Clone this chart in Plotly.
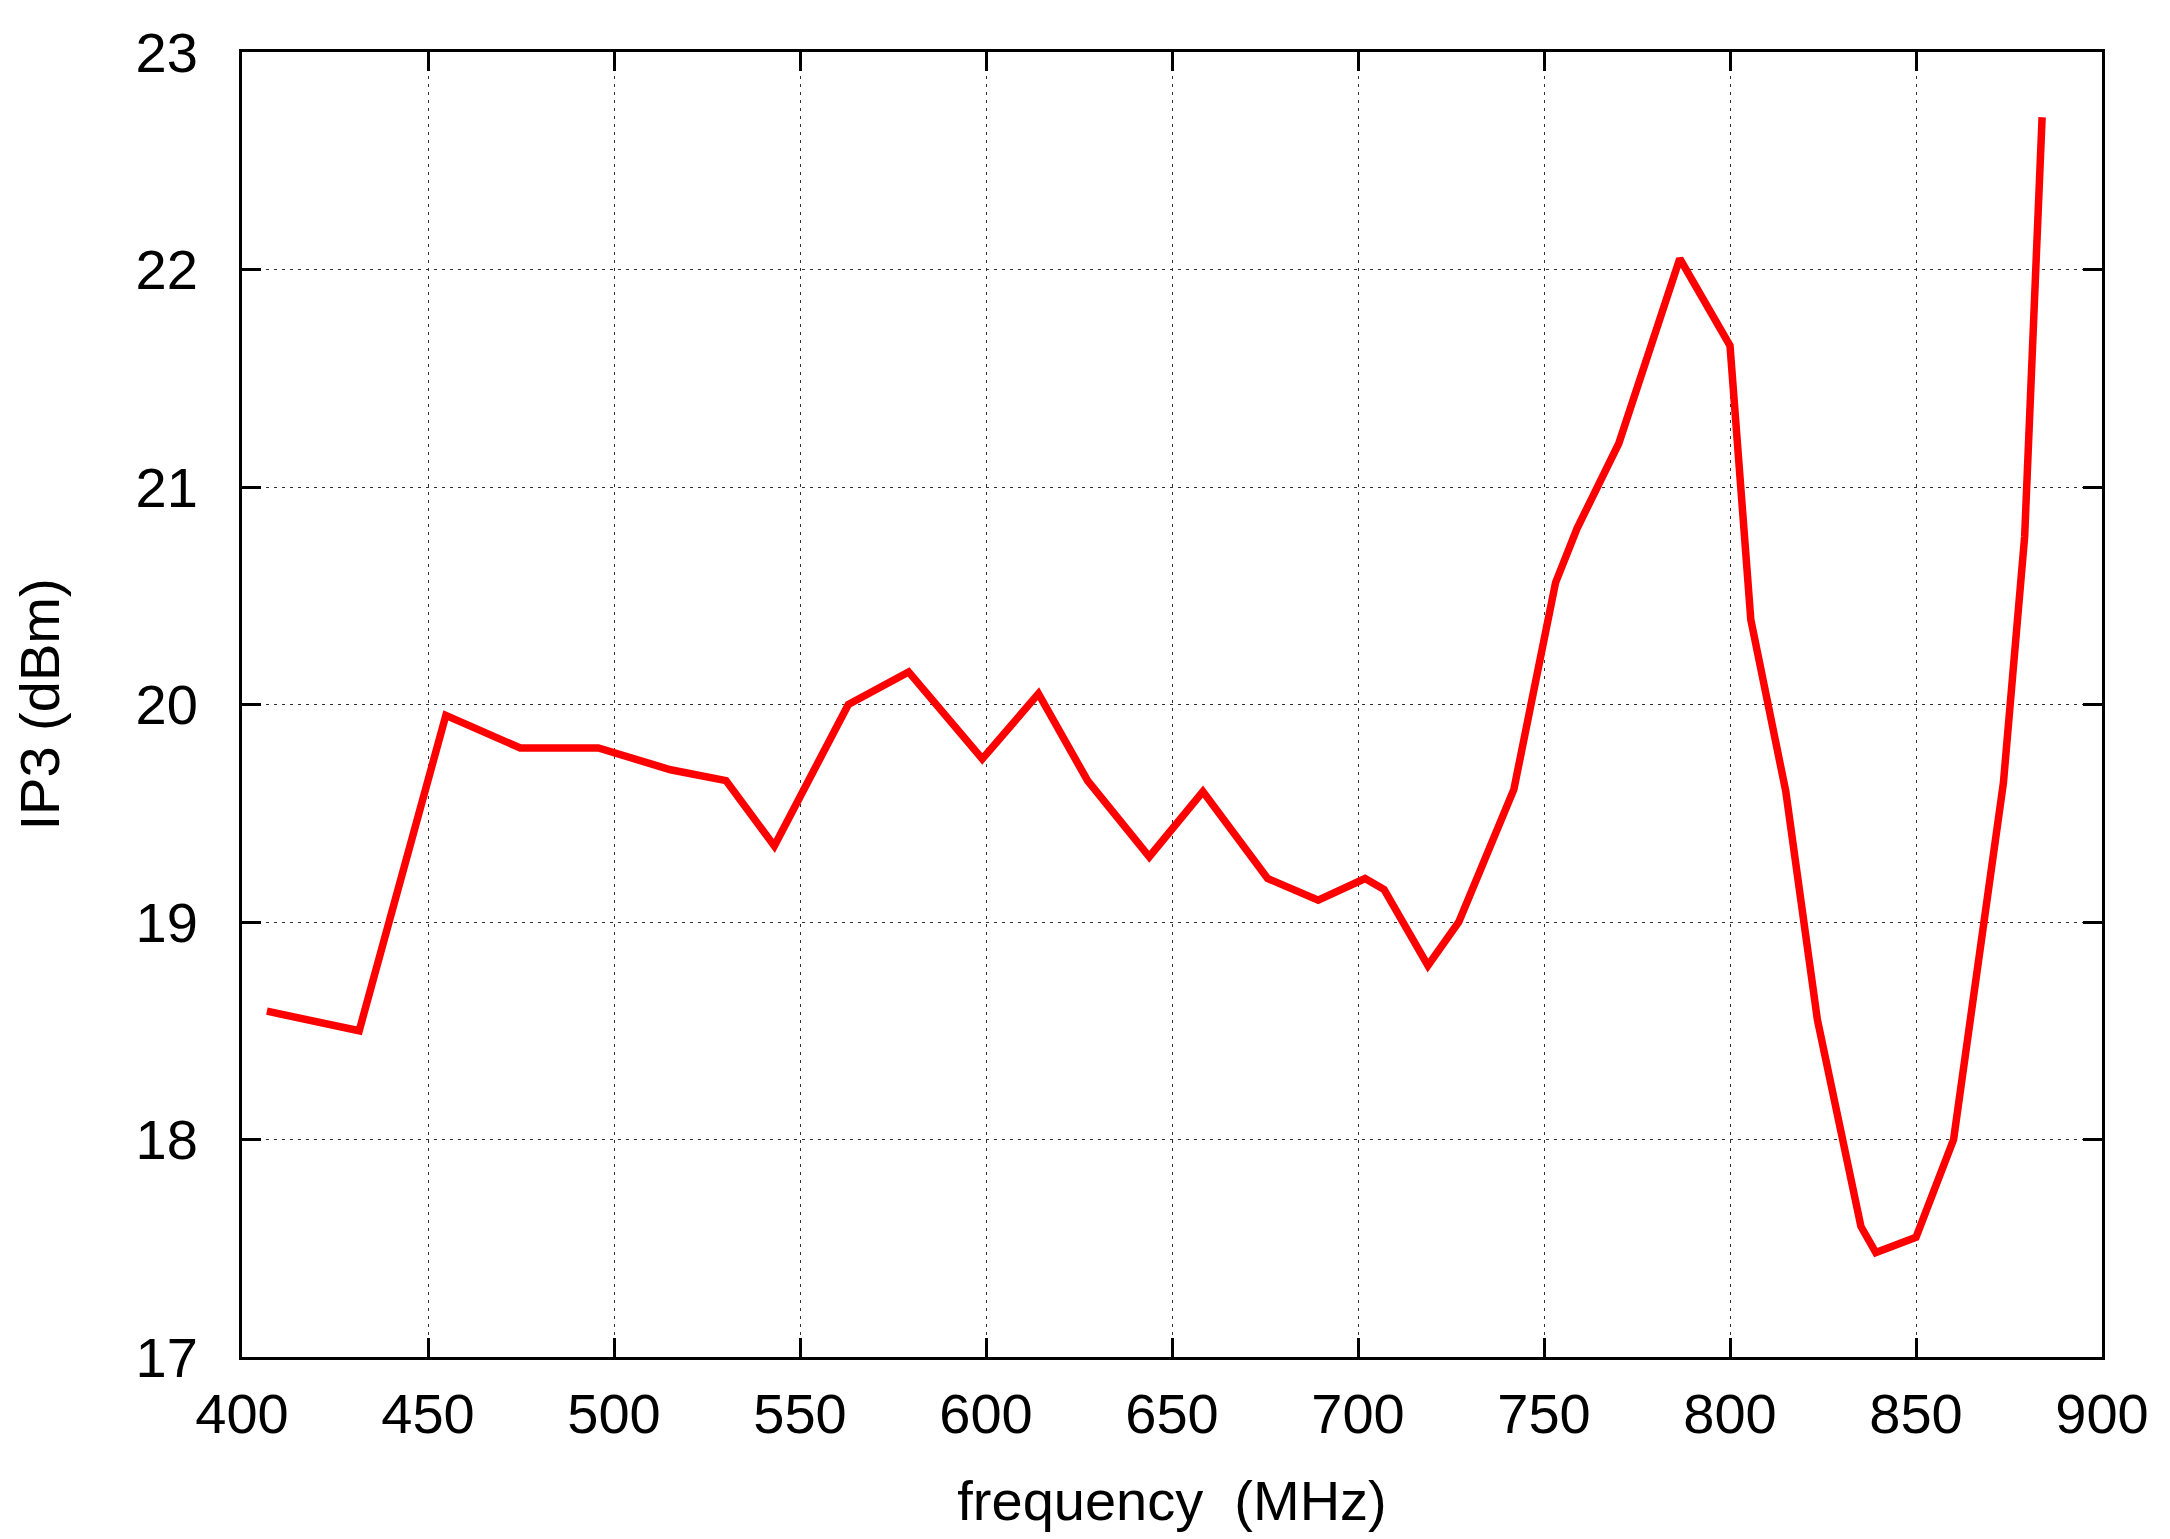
import plotly.graph_objects as go

# Frequency (MHz) and IP3 (dBm)
frequency_mhz = [406.7, 431.5, 454.8, 474.8, 495.8, 515.2, 530.1, 543.1, 563.0, 579.2,
                 599.0, 614.1, 627.3, 643.9, 658.3, 675.7, 689.3, 701.9, 707.0, 718.8,
                 727.1, 741.9, 753.1, 758.9, 770.1, 786.5, 800.0, 805.6, 815.0, 823.5,
                 835.2, 839.2, 850.0, 860.1, 873.5, 879.2, 883.9]
ip3_dbm = [18.59, 18.50, 19.95, 19.80, 19.80, 19.70, 19.65, 19.35, 20.00, 20.15,
           19.75, 20.05, 19.65, 19.30, 19.60, 19.20, 19.10, 19.20, 19.15, 18.80,
           19.00, 19.61, 20.56, 20.81, 21.20, 22.05, 21.65, 20.39, 19.60, 18.55,
           17.60, 17.48, 17.55, 18.00, 19.64, 20.77, 22.70]

x_ticks = [400, 450, 500, 550, 600, 650, 700, 750, 800, 850, 900]
y_ticks = [17, 18, 19, 20, 21, 22, 23]

FONT = "Liberation Sans, Arial, sans-serif"

fig = go.Figure()
fig.add_trace(go.Scatter(
    x=frequency_mhz, y=ip3_dbm, mode="lines",
    line=dict(color="#ff0000", width=7.5),
    showlegend=False, hoverinfo="skip",
))

axis_common = dict(
    showline=True, linecolor="black", linewidth=3, mirror="ticks",
    ticks="inside", ticklen=19, tickwidth=3, tickcolor="black",
    showgrid=True, gridcolor="#333333", gridwidth=1, griddash="3px,5px",
    zeroline=False,
    tickfont=dict(family=FONT, size=56, color="black"),
    title_font=dict(family=FONT, size=56, color="black"),
)

fig.update_xaxes(
    range=[400, 900], tickvals=x_ticks, ticktext=[str(v) for v in x_ticks],
    title_text="frequency \u00a0(MHz)", title_standoff=37,
    ticklabelstandoff=6,
    **axis_common,
)
fig.update_yaxes(
    range=[17, 23], tickvals=y_ticks, ticktext=[str(v) for v in y_ticks],
    title_text="IP3 (dBm)", title_standoff=62,
    ticklabelstandoff=30,
    **axis_common,
)

fig.update_layout(
    width=2170, height=1539,
    margin=dict(l=234, r=76, t=44, b=190, autoexpand=False),
    paper_bgcolor="white", plot_bgcolor="white",
    font=dict(family=FONT, color="black"),
)

fig.write_html("out.html")
